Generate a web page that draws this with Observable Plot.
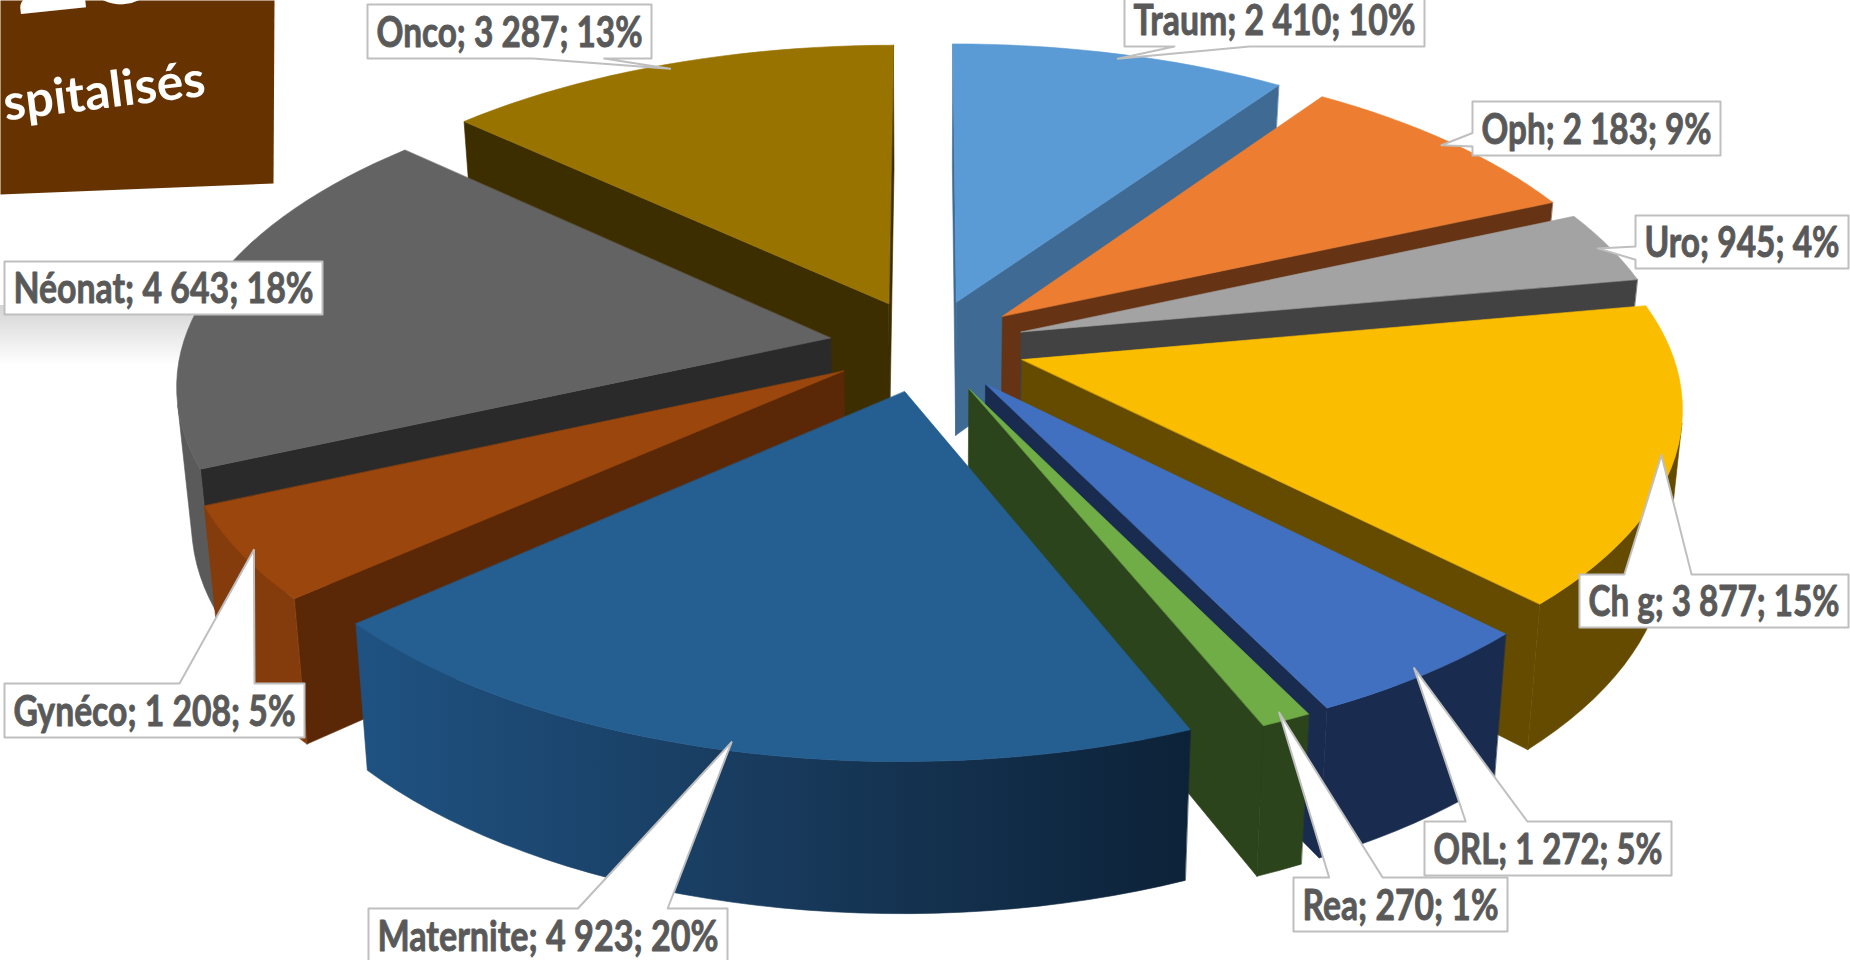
<!DOCTYPE html>
<html>
<head>
<meta charset="utf-8">
<style>html,body{margin:0;padding:0;background:#fff;overflow:hidden}</style>
<script src="https://cdn.jsdelivr.net/npm/d3@7"></script>
<script src="https://cdn.jsdelivr.net/npm/@observablehq/plot@0.6"></script>
</head>
<body>
<div id="chart"></div>
<script>
// ---- data
const categories = ["Traum","Oph","Uro","Ch g","ORL","Rea","Maternite","Gynéco","Néonat","Onco"];
const values     = [2410,2183,945,3877,1272,270,4923,1208,4643,3287];
const percents   = [10,9,4,15,5,1,20,5,18,13];

// ---- styles
const topColors  = ["#5B9BD5","#ED7D31","#A3A3A3","#FBBD00","#4170C0","#70AD47","#255E91","#9A460C","#636363","#997300"];
const wallColors = ["#3E6A94","#663414","#424242","#654B00","#192C50","#2C441C","#0C2238","#5A2806","#2A2A2A","#3D2E00"];
const rimColors  = ["#3E6A94","#663414","#424242","#654B00","#192C50","#2C441C","url(#matRim)","#843C0C","#5A5A5A","#3D2E00"];

// ---- label boxes: [left, top, right, bottom]
const labelBoxes = [[1124,-8,1424,46],[1472,101,1720,155],[1635,215,1848,268],[1579,574,1848,627],
  [1424,821,1671,875],[1293,877,1507,931],[368,908,727,962],[4,683,304,737],[4,261,322,314],[367,4,651,58]];

// ---- 3D pie settings
const cx = 927, cy = 345, radiusX = 648, radiusY = 305, perspective = 0.138, explosion = 0.152;
const baseScale = 0.98, thickness = 135, tipRadius = 0.98;

const total = d3.sum(values);
const rad = d => d * Math.PI / 180;
function rimPoint(theta, r, phi) {
  const X = r * Math.sin(theta) + explosion * Math.sin(phi);
  const Y = r * Math.cos(theta) + explosion * Math.cos(phi);
  const w = 1 + perspective * Y;
  return {x: cx + radiusX * X / w, y: cy - radiusY * Y / w, w};
}
const lower = p => ({x: cx + (p.x - cx) * baseScale, y: cy + (p.y - cy) * baseScale + thickness / p.w});
const signedArea = pts => d3.sum(pts, (p, i) => { const q = pts[(i + 1) % pts.length]; return p.x * q.y - q.x * p.y; });

let cum = 0;
const slices = values.map((v, i) => {
  const a0 = cum / total * 2 * Math.PI; cum += v;
  const a1 = cum / total * 2 * Math.PI;
  return {i, a0, a1, phi: (a0 + a1) / 2};
});

const polygon = (pts, color) => Plot.line(pts, {x: "x", y: "y", curve: "linear-closed", fill: color, stroke: color, strokeWidth: 0.6});

function sliceMarks(s) {
  const apex = rimPoint(0, 0, s.phi);
  const steps = Math.max(2, Math.ceil((s.a1 - s.a0) / rad(2)));
  const rim = d3.range(steps + 1).map(k => rimPoint(s.a0 + (s.a1 - s.a0) * k / steps, 1, s.phi));
  const out = [];
  const walls = [
    {pts: [apex, rim[0], lower(rim[0]), lower(apex)], color: wallColors[s.i]},
    {pts: [rim[steps], apex, lower(apex), lower(rim[steps])], color: wallColors[s.i]}
  ];
  for (const w of walls) if (signedArea(w.pts) < 0) out.push(polygon(w.pts, w.color));
  // the part of the outer wall that faces the viewer
  const seen = d3.range(steps).filter(k => signedArea([rim[k], rim[k + 1], lower(rim[k + 1]), lower(rim[k])]) < 0);
  if (seen.length) {
    const edge = rim.slice(seen[0], seen[seen.length - 1] + 2);
    out.push(polygon([...edge, ...edge.map(lower).reverse()], rimColors[s.i]));
  }
  out.push(polygon([apex, ...rim], topColors[s.i]));
  return out;
}

const byDepth = d3.sort(slices, s => -Math.cos(s.phi));

const fmt = v => String(v).replace(/\B(?=(\d{3})+$)/g, " ");
const labelText = categories.map((c, i) => `${c}; ${fmt(values[i])}; ${percents[i]}%`);

// rectangular callout with a wedge pointing at the rim of the slice, on the slice's mid-angle
function callout(s) {
  const [l, t, r, b] = labelBoxes[s.i];
  const tip = rimPoint(s.phi, tipRadius, s.phi);
  const w = r - l, h = b - t, mx = (l + r) / 2, my = (t + b) / 2;
  const inside = tip.x > l && tip.x < r && tip.y > t && tip.y < b;
  const P = (x, y) => ({x, y});
  if (inside) return [P(l, t), P(r, t), P(r, b), P(l, b)];
  const dx = (tip.x - mx) / w, dy = (tip.y - my) / h;
  const f1 = (dx < 0 ? 2 : 7) / 12, f2 = (dx < 0 ? 5 : 10) / 12;
  const g1 = (dy < 0 ? 2 : 7) / 12, g2 = (dy < 0 ? 5 : 10) / 12;
  const T = P(tip.x, tip.y);
  if (Math.abs(dy) > Math.abs(dx)) {
    return dy < 0
      ? [P(l, t), P(l + w * f1, t), T, P(l + w * f2, t), P(r, t), P(r, b), P(l, b)]
      : [P(l, t), P(r, t), P(r, b), P(l + w * f2, b), T, P(l + w * f1, b), P(l, b)];
  }
  return dx < 0
    ? [P(l, t), P(r, t), P(r, b), P(l, b), P(l, t + h * g2), T, P(l, t + h * g1)]
    : [P(l, t), P(r, t), P(r, t + h * g1), T, P(r, t + h * g2), P(r, b), P(l, b)];
}

const labelMarks = slices.flatMap(s => {
  const [l, t, r, b] = labelBoxes[s.i];
  return [
    Plot.line(callout(s), {x: "x", y: "y", curve: "linear-closed", fill: "#fff", stroke: "#BFBFBF", strokeWidth: 2}),
    Plot.text([labelText[s.i]], {x: (l + r) / 2, y: (t + b) / 2 + 2, text: d => d, textAnchor: "middle", lineAnchor: "middle",
      fontFamily: "Lato", fontWeight: 700, fontSize: 42, fill: "#595959", stroke: "#595959", strokeWidth: 0.9})
  ];
});

// backdrop fragments: banner at top left and the soft shadow beneath it
const defs = () => {
  const d = d3.create("svg:defs");
  const g = d.append("linearGradient").attr("id", "shade").attr("x1", 0).attr("x2", 0).attr("y1", 0).attr("y2", 1);
  g.append("stop").attr("offset", "0%").attr("stop-color", "#d4d4d4");
  g.append("stop").attr("offset", "100%").attr("stop-color", "#ffffff");
  const m = d.append("linearGradient").attr("id", "matRim").attr("gradientUnits", "userSpaceOnUse")
    .attr("x1", 356).attr("x2", 1189).attr("y1", 0).attr("y2", 0);
  m.append("stop").attr("offset", "0%").attr("stop-color", "#1F5282");
  m.append("stop").attr("offset", "50%").attr("stop-color", "#183A5C");
  m.append("stop").attr("offset", "100%").attr("stop-color", "#0C2238");
  return d.node();
};
const banner = [{x: 0, y: 0}, {x: 274, y: 0}, {x: 273, y: 183}, {x: 0, y: 194}];

const chart = Plot.plot({
  width: 1850, height: 960, margin: 0,
  x: {domain: [0, 1850], range: [0, 1850], axis: null},
  y: {domain: [0, 960], range: [0, 960], axis: null},
  style: {background: "#fff"},
  marks: [
    defs,
    Plot.rect([0], {x1: 0, x2: 240, y1: 305, y2: 365, fill: "url(#shade)"}),
    Plot.line(banner, {x: "x", y: "y", curve: "linear-closed", fill: "#663300"}),
    Plot.text(["25"], {x: 16, y: 14, text: d => d, textAnchor: "start", lineAnchor: "bottom", rotate: -6, fontFamily: "Lato", fontWeight: 900, fontSize: 130, fill: "#fff"}),
    Plot.text(["spitalisés"], {x: 3, y: 104, text: d => d, textAnchor: "start", lineAnchor: "middle", rotate: -7, fontFamily: "Lato", fontWeight: 700, fontSize: 50, fill: "#fff"}),
    ...byDepth.flatMap(sliceMarks),
    ...labelMarks
  ]
});

// Labels are condensed in the reference: fit each to its box width
chart.querySelectorAll("text").forEach(t => {
  const i = labelText.indexOf(t.textContent.trim());
  if (i >= 0) {
    const [l, , r] = labelBoxes[i];
    t.setAttribute("textLength", r - l - 18);
    t.setAttribute("lengthAdjust", "spacingAndGlyphs");
  }
});
document.getElementById("chart").append(chart);
</script>
</body>
</html>
